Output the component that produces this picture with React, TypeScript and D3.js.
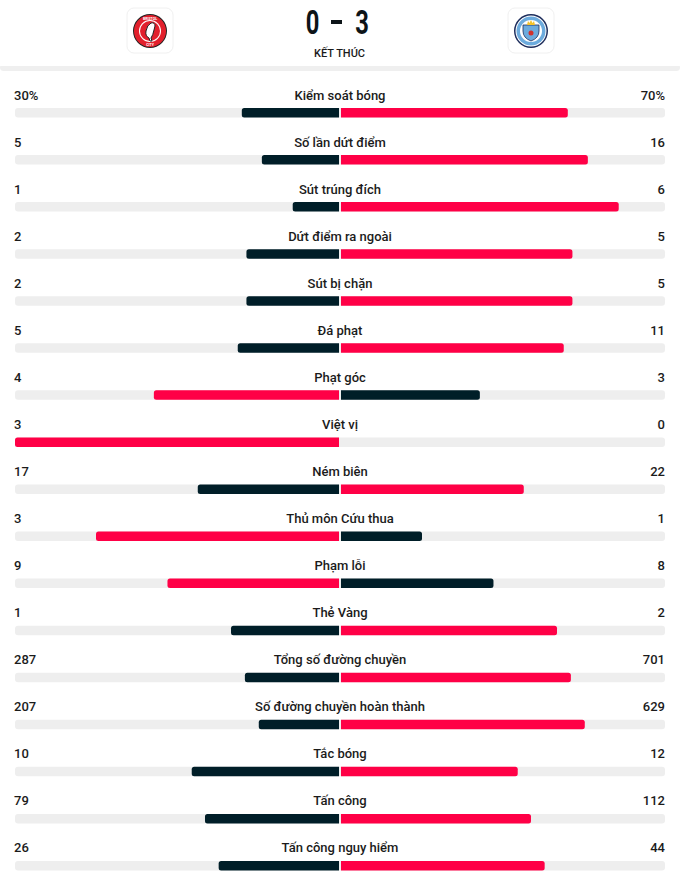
import React from "react";
import * as d3 from "d3";

const statLabels = [
  "Kiểm soát bóng",
  "Số lần dứt điểm",
  "Sút trúng đích",
  "Dứt điểm ra ngoài",
  "Sút bị chặn",
  "Đá phạt",
  "Phạt góc",
  "Việt vị",
  "Ném biên",
  "Thủ môn Cứu thua",
  "Phạm lỗi",
  "Thẻ Vàng",
  "Tổng số đường chuyền",
  "Số đường chuyền hoàn thành",
  "Tắc bóng",
  "Tấn công",
  "Tấn công nguy hiểm",
];
const homeValues = [30, 5, 1, 2, 2, 5, 4, 3, 17, 3, 9, 1, 287, 207, 10, 79, 26];
const awayValues = [70, 16, 6, 5, 5, 11, 3, 0, 22, 1, 8, 2, 701, 629, 12, 112, 44];
const homeText = ["30%", "5", "1", "2", "2", "5", "4", "3", "17", "3", "9", "1", "287", "207", "10", "79", "26"];
const awayText = ["70%", "16", "6", "5", "5", "11", "3", "0", "22", "1", "8", "2", "701", "629", "12", "112", "44"];
const homeGoals = "0";
const awayGoals = "3";
const statusText = "KẾT THÚC";

const W = 680;
const H = 882;
const RED = "#ff0046";
const DARK = "#001e28";
const TRACK = "#eeeeee";
const TEXT = "#1b1b1b";

function barPath(x0: number, x1: number, y: number, h: number, roundLeft: boolean) {
  const r = Math.min(2.5, Math.abs(x1 - x0) / 2);
  if (x1 - x0 <= 0) return "";
  if (roundLeft) {
    return `M${x1},${y} L${x0 + r},${y} Q${x0},${y} ${x0},${y + r} L${x0},${y + h - r} Q${x0},${y + h} ${x0 + r},${y + h} L${x1},${y + h} Z`;
  }
  return `M${x0},${y} L${x1 - r},${y} Q${x1},${y} ${x1},${y + r} L${x1},${y + h - r} Q${x1},${y + h} ${x1 - r},${y + h} L${x0},${y + h} Z`;
}

function BristolLogo({ cx, cy }: { cx: number; cy: number }) {
  return (
    <g>
      <rect x={cx - 23} y={cy - 23} width={46} height={45} rx={7} fill="#fff" stroke="#f0f0f0" />
      <circle cx={cx} cy={cy} r={17} fill="#222" />
      <circle cx={cx} cy={cy} r={16} fill="#e2202c" />
      <circle cx={cx} cy={cy} r={11} fill="#fff" />
      <circle cx={cx} cy={cy} r={10} fill="#e2202c" />
      <path
        d={`M${cx + 1},${cy - 8} q4,-1 4,3 l-1,4 q-1,5 -3,8 l1,3 h-2 l-1,-3 q-4,-2 -3,-7 q1,-6 5,-8 z`}
        fill="#fff"
        stroke="#222"
        strokeWidth={1}
      />
      <text x={cx} y={cy - 11.5} fontSize={3.5} fill="#fff" textAnchor="middle" fontFamily="Roboto" fontWeight={700}>BRISTOL</text>
      <text x={cx} y={cy + 15} fontSize={3.5} fill="#fff" textAnchor="middle" fontFamily="Roboto" fontWeight={700}>CITY</text>
    </g>
  );
}

function CityLogo({ cx, cy }: { cx: number; cy: number }) {
  return (
    <g>
      <rect x={cx - 23} y={cy - 23} width={46} height={45} rx={7} fill="#fff" stroke="#f0f0f0" />
      <circle cx={cx} cy={cy} r={17} fill="#1c2c5b" />
      <circle cx={cx} cy={cy} r={15.5} fill="#fff" />
      <circle cx={cx} cy={cy} r={14.5} fill="#6cabdd" />
      <circle cx={cx} cy={cy} r={11} fill="#fff" />
      <path
        d={`M${cx - 8},${cy - 6} h16 v6 q0,7 -8,10 q-8,-3 -8,-10 z`}
        fill="#6cabdd"
        stroke="#1c2c5b"
        strokeWidth={0.8}
      />
      <path d={`M${cx - 4},${cy - 6} l1,-4 l1.5,2 l1.5,-3 l1.5,3 l1.5,-2 l1,4 z`} fill="#f4c22b" />
      <circle cx={cx} cy={cy + 2} r={2.5} fill="#d0312d" />
    </g>
  );
}

export default function App() {
  const n = statLabels.length;
  const left = 15;
  const right = 665;
  const center = 340;
  const gap = 1;
  const half = center - left - gap;

  const rowY = d3.scaleLinear().domain([0, n - 1]).range([99.5, 99.5 + 47.06 * (n - 1)]);
  const frac = d3.scaleLinear().domain([0, 1]).range([0, half]);
  const barOffset = 8.5;
  const barH = 9.5;

  return (
    <div style={{ position: "absolute", left: 0, top: 0 }}>
      <svg width={W} height={H} style={{ display: "block", background: "#fff" }}>
        <rect x={0} y={0} width={W} height={H} fill="#fff" />
        {/* header */}
        <rect x={0} y={64} width={W} height={7} rx={4} fill="#efefef" />
        <rect x={0} y={0} width={W} height={66} fill="#fff" />
        <BristolLogo cx={150} cy={31} />
        <CityLogo cx={531} cy={31} />
        <g fontFamily="Roboto, 'DejaVu Sans'" fontWeight={700} fill="#0d1418">
          <text transform="translate(312.5,34) scale(0.72,1)" fontSize={33} textAnchor="middle">{homeGoals}</text>
          <rect x={331} y={20} width={11} height={4} fill="#0d1418" />
          <text transform="translate(362,34) scale(0.72,1)" fontSize={33} textAnchor="middle">{awayGoals}</text>
        </g>
        <text
          x={339.5}
          y={56.5}
          fontSize={11}
          fontFamily="Roboto"
          fontWeight={500}
          textAnchor="middle"
          fill={TEXT}
        >
          {statusText}
        </text>

        {statLabels.map((label, i) => {
          const y = rowY(i);
          const h = homeValues[i];
          const a = awayValues[i];
          const tot = h + a;
          const hw = tot > 0 ? frac(h / tot) : 0;
          const aw = tot > 0 ? frac(a / tot) : 0;
          const homeColor = h >= a ? RED : DARK;
          const awayColor = a > h ? RED : DARK;
          const by = y + barOffset;
          return (
            <g key={label}>
              <text x={left - 1} y={y} fontSize={13} fontFamily="Roboto" fontWeight={500} fill={TEXT}>
                {homeText[i]}
              </text>
              <text x={center} y={y} fontSize={13} fontFamily="Roboto" fontWeight={500} fill={TEXT} textAnchor="middle">
                {label}
              </text>
              <text x={right} y={y} fontSize={13} fontFamily="Roboto" fontWeight={500} fill={TEXT} textAnchor="end">
                {awayText[i]}
              </text>
              <rect x={left} y={by} width={right - left} height={barH} rx={3} fill={TRACK} />
              <path d={barPath(center - gap - hw, center - gap, by, barH, true)} fill={homeColor} />
              <path d={barPath(center + gap, center + gap + aw, by, barH, false)} fill={awayColor} />
            </g>
          );
        })}
      </svg>
    </div>
  );
}
